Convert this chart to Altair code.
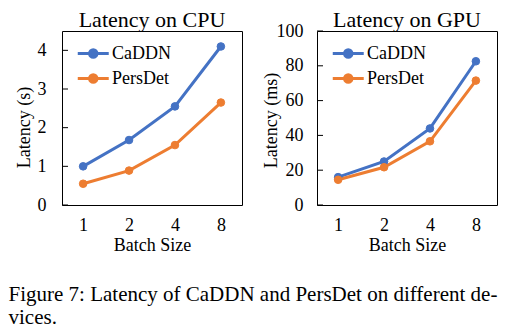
import altair as alt
import pandas as pd

batch = ["1", "2", "4", "8"]
series = ["CaDDN", "PersDet"]
cpu_caddn = [1.0, 1.68, 2.55, 4.1]
cpu_persdet = [0.55, 0.89, 1.55, 2.65]
gpu_caddn = [16.0, 25.0, 44.0, 82.6]
gpu_persdet = [14.5, 21.7, 36.6, 71.5]
cpu_ticks = [0, 1, 2, 3, 4]
gpu_ticks = [0, 20, 40, 60, 80, 100]
colors = ["#4472C4", "#ED7D31"]
caption = ["Figure 7: Latency of CaDDN and PersDet on different de-", "vices."]

FONT = "Liberation Serif"
LEG_PATH = "M-1,0 L3,0 M0.52,0 A0.48,0.48 0 1,0 1.48,0 A0.48,0.48 0 1,0 0.52,0 Z"


def frame(a, b):
    return pd.DataFrame({
        "batch": batch * 2,
        "series": [series[0]] * len(batch) + [series[1]] * len(batch),
        "value": a + b,
    })


def panel(df, ticks, title, ytitle, domain, label_pad, title_opts, title_offset):
    cscale = alt.Scale(domain=series, range=colors)
    legend = alt.Legend(
        orient="none", legendX=14, legendY=13, title=None,
        symbolType=LEG_PATH, symbolSize=240, symbolStrokeWidth=3,
        labelFont=FONT, labelFontSize=18, labelColor="black",
        labelOffset=17, rowPadding=4, padding=0,
    )
    yscale = alt.Scale(domain=domain, nice=False, zero=True)
    yaxis = alt.Axis(values=ticks, ticks=False, domain=False, grid=False,
                     labelFont=FONT, labelFontSize=18, labelColor="black",
                     labelPadding=label_pad, titleFont=FONT, titleFontSize=18,
                     titleFontWeight="normal", titleColor="black", **title_opts)
    x = alt.X("batch:O", sort=batch, title="Batch Size",
              scale=alt.Scale(type="point", padding=0.46),
              axis=alt.Axis(labelAngle=0, ticks=False, domain=False, grid=False,
                            labelFont=FONT, labelFontSize=18, labelColor="black",
                            labelPadding=11, titleFont=FONT, titleFontSize=18,
                            titleFontWeight="normal", titleColor="black", titlePadding=2))
    y = alt.Y("value:Q", title=ytitle, scale=yscale, axis=yaxis)
    tick_rules = alt.Chart(pd.DataFrame({"value": ticks})).mark_rule(
        color="black", strokeWidth=1).encode(
        y=y, x=alt.value(0), x2=alt.value(6))
    base = alt.Chart(df)
    line = base.mark_line(strokeWidth=3).encode(
        x=x, y=y, stroke=alt.Stroke("series:N", scale=cscale, legend=legend))
    pts = base.mark_point(filled=True, size=58, opacity=1, strokeWidth=1).encode(
        x=x, y=y,
        fill=alt.Fill("series:N", scale=cscale, legend=legend),
        stroke=alt.Stroke("series:N", scale=cscale, legend=legend))
    return alt.layer(line, pts, tick_rules).properties(
        width=180, height=174,
        view=alt.ViewBackground(stroke="black", strokeWidth=1),
        title=alt.TitleParams(title, font=FONT, fontSize=22, fontWeight="normal",
                              color="black", offset=title_offset),
    )


cpu = panel(frame(cpu_caddn, cpu_persdet), cpu_ticks, "Latency on CPU", "Latency (s)",
            [0, 4.5], 16,
            {"titleX": -38, "titleY": 96, "titleBaseline": "middle", "titleAngle": 270}, -1)
gpu = panel(frame(gpu_caddn, gpu_persdet), gpu_ticks, "Latency on GPU", "Latency (ms)",
            [0, 100], 14, {"titlePadding": -4, "titleY": 89}, -10)

chart = alt.hconcat(cpu, gpu, spacing=18).resolve_scale(
    y="independent").resolve_legend(fill="independent", stroke="independent").properties(
    title=alt.TitleParams(caption, orient="bottom", anchor="start", font=FONT,
                          fontSize=21, fontWeight="normal", color="black",
                          lineHeight=23, offset=29, dx=-6),
    padding={"left": 8, "top": 8, "right": 5, "bottom": 5},
).configure(background="white").configure_view(stroke="black", strokeWidth=1)

chart.save("out.html", embed_options={"renderer": "svg", "actions": False})
